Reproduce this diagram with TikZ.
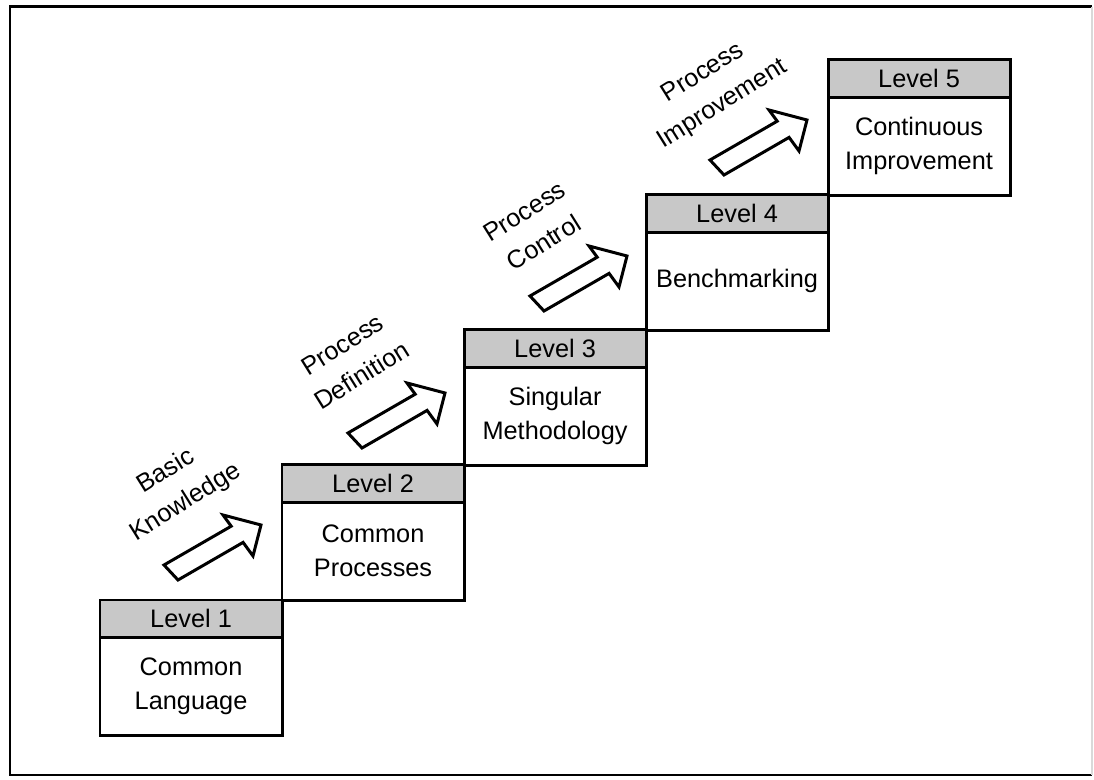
\documentclass[tikz,border=0pt]{standalone}
\usepackage{fontspec}
\setmainfont{Liberation Sans}
\definecolor{bandgray}{RGB}{200,200,200}
\newcommand\lvfont{\fontsize{7.2}{9.7}\selectfont}
\newcommand\tiltfont{\fontsize{7.2}{10.4}\selectfont}
\begin{document}
\begin{tikzpicture}[x=0.01cm,y=-0.01cm,
  outline/.style={line width=0.85pt},
  band/.style={outline, draw, fill=bandgray, rectangle, inner sep=0pt, outer sep=0pt,
    minimum width=1.82cm, minimum height=0.37cm, font=\lvfont},
  body/.style={outline, draw, fill=white, rectangle, inner sep=0pt, outer sep=0pt,
    minimum width=1.82cm, minimum height=0.98cm, align=center, font=\lvfont},
  steplabel/.style={rotate=32, align=center, font=\tiltfont, inner sep=0pt},
  blockarrow/.style={outline, draw, fill=white, line join=miter}
]
\useasboundingbox (0,0) rectangle (1094,780);

% frame
\draw[outline] (1092,7) -- (10,7) -- (10,775) -- (1092,775);
\draw[black!15, line width=0.5pt] (1092,7) -- (1092,775);

% the five levels
\node[band, anchor=north west] (lv1) at (100,600) {Level 1};
\node[body, anchor=north] (st1) at (lv1.south) {Common\\Language};
\node[band, anchor=north west] (lv2) at (282,465) {Level 2};
\node[body, anchor=north] (st2) at (lv2.south) {Common\\Processes};
\node[band, anchor=north west] (lv3) at (464,330) {Level 3};
\node[body, anchor=north] (st3) at (lv3.south) {Singular\\Methodology};
\node[band, anchor=north west] (lv4) at (646,195) {Level 4};
\node[body, anchor=north] (st4) at (lv4.south) {Benchmarking};
\node[band, anchor=north west] (lv5) at (828,60) {Level 5};
\node[body, anchor=north] (st5) at (lv5.south) {Continuous\\Improvement};

% block arrows between the levels
\foreach \dx/\dy in {-184/132, 0/0, 182/-137, 362/-273}{
  \draw[blockarrow, shift={(\dx,\dy)}]
    (348,433) -- (415.2,394.2) -- (407,383) -- (445,393) -- (437,424)
    -- (427.1,410.4) -- (362,448) -- cycle;
}

% step labels
\node[steplabel] (k1) at (176,487) {Basic\\Knowledge};
\node[steplabel] (k2) at (352,360) {Process\\Definition};
\node[steplabel] (k3) at (534,227) {Process\\Control};
\node[steplabel] (k4) at (713,89) {Process\\Improvement};
\end{tikzpicture}
\end{document}
